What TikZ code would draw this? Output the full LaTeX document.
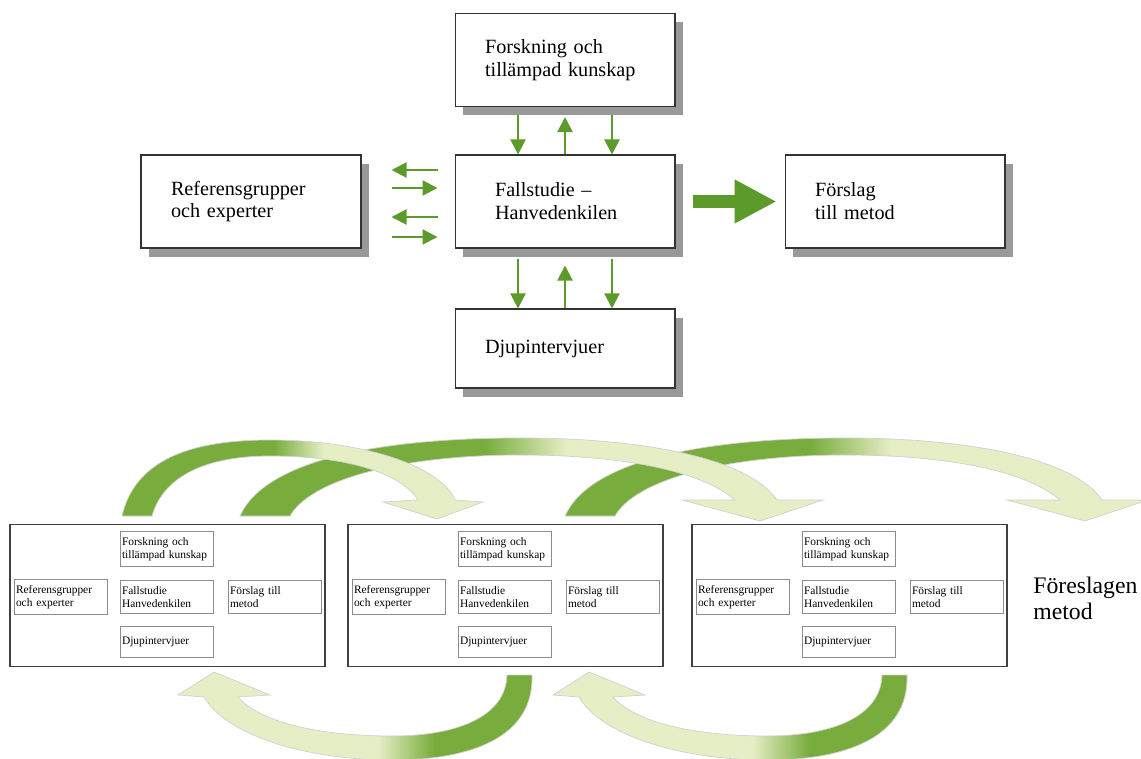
\documentclass[tikz,border=0pt]{standalone}
\usepackage{fontspec}
\setmainfont{Liberation Serif}
\usetikzlibrary{arrows.meta,shadows,calc}

\definecolor{arrowgreen}{RGB}{92,154,42}
\definecolor{ribbondark}{RGB}{120,172,60}
\definecolor{ribbonlight}{RGB}{230,238,198}

\pgfdeclarehorizontalshading{ribbonfwd}{100bp}{color(0bp)=(ribbondark); color(46bp)=(ribbondark); color(53bp)=(ribbonlight); color(100bp)=(ribbonlight)}
\pgfdeclarehorizontalshading{ribbonback}{100bp}{color(0bp)=(ribbonlight); color(53bp)=(ribbonlight); color(61bp)=(ribbondark); color(100bp)=(ribbondark)}

\tikzset{
  mainbox/.style={draw=black!80, fill=white, line width=0.6pt, minimum width=4.4cm, minimum height=1.86cm, text width=3.2cm, inner xsep=0.6cm, align=left, font=\fontsize{11.5}{13}\selectfont, drop shadow={shadow xshift=0.16cm, shadow yshift=-0.18cm, fill=black!40, opacity=1}},
  stageframe/.style={draw=black!75, line width=0.8pt, minimum width=6.3cm, minimum height=2.84cm},
  minibox/.style={draw=black!45, minimum width=1.86cm, minimum height=0.62cm, text width=1.8cm, inner xsep=0.03cm, align=left, font=\fontsize{6.5}{7.4}\selectfont},
  flowarrow/.style={draw=arrowgreen, line width=1.2pt, -{Triangle[length=0.3cm,width=0.3cm]}},
  bigarrow/.style={draw=arrowgreen, line width=0.26cm, -{Triangle[length=0.84cm,width=0.82cm]}},
  ribbon/.style={draw=black!18, line width=0.4pt},
}

\begin{document}
\begin{tikzpicture}[x=0.02cm, y=-0.02cm]
    \useasboundingbox (0,0) rectangle (1141,759);

    % upper scheme
    \node[mainbox] (forsk) at (565,60) {Forskning och\\tillämpad kunskap};
    \node[mainbox, text width=2.8cm, inner xsep=0.8cm] (fall) at (565,201.5) {Fallstudie –\\Hanvedenkilen};
    \node[mainbox, minimum height=1.58cm] (djup) at (565,348.5) {Djupintervjuer};
    \node[mainbox] (ref) at (251,201.5) {Referensgrupper\\och experter};
    \node[mainbox] (forslag) at (895,201.5) {Förslag\\till metod};

    \foreach \dx in {-0.94cm,0.94cm}
        \draw[flowarrow, shorten <=0.16cm] ([xshift=\dx]forsk.south) -- ([xshift=\dx]fall.north);
    \draw[flowarrow, shorten >=0.2cm] (fall.north) -- (forsk.south);

    \foreach \dx in {-0.94cm,0.94cm}
        \draw[flowarrow, shorten <=0.2cm] ([xshift=\dx]fall.south) -- ([xshift=\dx]djup.north);
    \draw[flowarrow, shorten >=0.34cm] (djup.north) -- (fall.south);

    \foreach \dy in {0.63cm,-0.31cm}
        \draw[flowarrow, shorten <=0.34cm, shorten >=0.6cm] ([yshift=\dy]fall.west) -- ([yshift=\dy]ref.east);
    \foreach \dy in {0.27cm,-0.71cm}
        \draw[flowarrow, shorten <=0.6cm, shorten >=0.34cm] ([yshift=\dy]ref.east) -- ([yshift=\dy]fall.west);

    \draw[bigarrow, shorten <=0.34cm, shorten >=0.16cm] (fall.east) -- (forslag.west);

    % ribbons forward (top)
    \foreach \dx in {325,0}
        \shadedraw[ribbon, shading=ribbonfwd, shift={(\dx,0)}] (240,516) .. controls (265,460) and (380,438) .. (520,438) .. controls (650,438) and (750,460) .. (777,500) -- (823,500) -- (760,521) -- (682,500) -- (735,500) .. controls (700,470) and (620,455) .. (520,455) .. controls (400,455) and (310,480) .. (290,516) -- cycle;
    \shadedraw[ribbon, shading=ribbonfwd] (122,516) .. controls (135,460) and (190,440) .. (270,440) .. controls (360,440) and (440,465) .. (455,500) -- (483,502) -- (437,519) -- (383,502) -- (418,500) .. controls (400,472) and (345,456) .. (270,456) .. controls (200,456) and (162,480) .. (152,516) -- cycle;

    % ribbons back (bottom)
    \foreach \dx in {0,375}
        \shadedraw[ribbon, shading=ribbonback, shift={(\dx,0)}] (532,675) .. controls (534,738) and (470,760) .. (392,760) .. controls (305,760) and (226,735) .. (204,697) -- (178,695) -- (214,672) -- (270,695) -- (238,697) .. controls (260,722) and (318,736) .. (392,736) .. controls (458,736) and (506,716) .. (507,675) -- cycle;

    % three rounds
    \foreach \i/\fx in {1/10,2/348,3/692} {
        \node[stageframe] (stage\i) at (\fx+157.5,595.5) {};
        \node[minibox] (mforsk\i) at (\fx+157,549) {Forskning och\\tillämpad kunskap};
        \node[minibox] (mref\i) at (\fx+51,597) {Referensgrupper\\och experter};
        \node[minibox] (mfall\i) at (\fx+157,597) {Fallstudie\\Hanvedenkilen};
        \node[minibox] (mforslag\i) at (\fx+265,597) {Förslag till\\metod};
        \node[minibox] (mdjup\i) at (\fx+157,642) {Djupintervjuer};
    }

    \node[anchor=west, align=left, inner sep=0pt, font=\fontsize{13.5}{14.8}\selectfont] (result) at (1033,598) {Föreslagen\\metod};
\end{tikzpicture}
\end{document}
